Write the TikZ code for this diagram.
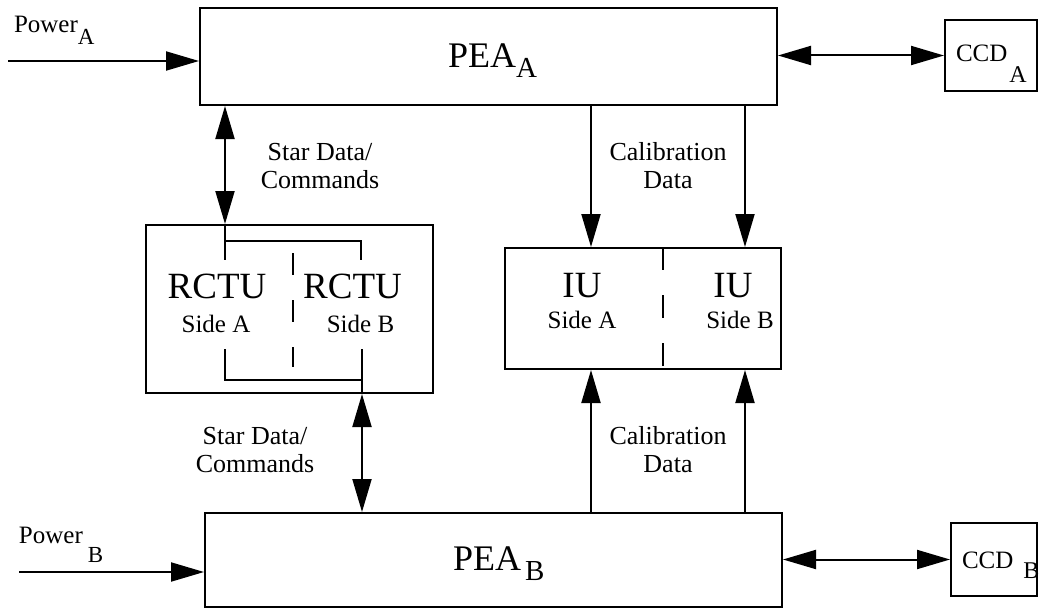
\documentclass[tikz,border=0pt]{standalone}
\usepackage{fontspec}
\setmainfont{Liberation Serif}
\usetikzlibrary{arrows.meta}
\newcommand{\fs}[2]{\fontsize{#1}{#2}\selectfont}
\newcommand{\lsub}[3]{\raisebox{-#1pt}{\fs{#2}{#2}#3}}
\begin{document}
\begin{tikzpicture}[x=1pt,y=-1pt,line width=2pt,>={Triangle[length=33pt,width=19pt]},
	box/.style={draw,inner sep=0pt},
	txt/.style={inner sep=0pt,anchor=base west},
	bigtxt/.style={font=\fs{37}{37},inner sep=0pt,anchor=base},
	sidetxt/.style={font=\fs{25}{25},inner sep=0pt,anchor=base},
	lbl/.style={font=\fs{26}{28},align=center,inner sep=0pt},
	divider/.style={dash pattern=on 23pt off 25pt},
	rdivider/.style={dash pattern=on 22pt off 25pt}]
	\useasboundingbox (0,0) rectangle (1039,610);
	% boxes
	\node[box,minimum width=577,minimum height=97] (peaA) at (488.5,56.5) {};
	\node[box,minimum width=577,minimum height=94] (peaB) at (493.5,560) {};
	\node[box,minimum width=92,minimum height=71] (ccdA) at (991,55.5) {};
	\node[box,minimum width=86,minimum height=73] (ccdB) at (994,559.5) {};
	\node[box,minimum width=287,minimum height=168] (rctu) at (289.5,309) {};
	\node[box,minimum width=276,minimum height=121] (iu) at (643,308.5) {};
	% box texts
	\node[txt,font=\fs{36}{36}] (peaAtxt) at (447,67) {PEA\lsub{10}{29}{A}};
	\node[txt,font=\fs{36}{36}] (peaBtxt) at (452,570) {PEA\hspace{4pt}\lsub{10}{29}{B}};
	\node[txt,font=\fs{25}{25}] (ccdAtxt) at (955,62) {CCD\hspace{2pt}\lsub{21}{24}{A}};
	\node[txt,font=\fs{25}{25}] (ccdBtxt) at (961,568) {CCD\hspace{10pt}\lsub{10}{24}{B}};
	\node[txt,font=\fs{25}{25}] (pwrAtxt) at (13,33) {Power\lsub{12}{23}{A}};
	\node[txt,font=\fs{25}{25}] (pwrBtxt) at (18,543) {Power\hspace{5pt}\lsub{19}{23}{B}};
	\node[bigtxt] (rctuAtxt) at (217,298) {RCTU};
	\node[sidetxt] (rctuAside) at (216,332) {Side A};
	\node[bigtxt] (rctuBtxt) at (352.5,298) {RCTU};
	\node[sidetxt] (rctuBside) at (360.5,332) {Side B};
	\node[bigtxt] (iuAtxt) at (582,297) {IU};
	\node[sidetxt] (iuAside) at (582,328) {Side A};
	\node[bigtxt] (iuBtxt) at (733,297) {IU};
	\node[sidetxt] (iuBside) at (740,328) {Side B};
	% labels
	\node[lbl] (starA) at (320,166) {Star Data/\\Commands};
	\node[lbl] (starB) at (255,450) {Star Data/\\Commands};
	\node[lbl] (calA) at (668,166) {Calibration\\Data};
	\node[lbl] (calB) at (668,450) {Calibration\\Data};
	% connectors
	\coordinate (xr) at (225,0);
	\coordinate (xrb) at (362,0);
	\coordinate (xc1) at (591,0);
	\coordinate (xc2) at (745,0);
	\coordinate (xd) at (663,0);
	\coordinate (pwrAin) at (8,61);
	\coordinate (pwrBin) at (19,572);
	\draw[->] (pwrAin) -- (pwrAin -| peaA.west);
	\draw[->] (pwrBin) -- (pwrBin -| peaB.west);
	\draw[<->] (peaA.east |- ccdA.west) -- (ccdA.west);
	\draw[<->] (peaB.east |- ccdB.west) -- (ccdB.west);
	\draw[<->] (peaA.south -| xr) -- (rctu.north -| xr);
	\draw[<->] (rctu.south -| xrb) -- (peaB.north -| xrb);
	\draw[->] (peaA.south -| xc1) -- (iu.north -| xc1);
	\draw[->] (peaA.south -| xc2) -- (iu.north -| xc2);
	\draw[->] (peaB.north -| xc1) -- (iu.south -| xc1);
	\draw[->] (peaB.north -| xc2) -- (iu.south -| xc2);
	% rctu brackets
	\draw (rctu.north -| xr) -- (225,260);
	\draw (225,241) -- (361,241) -- (361,260);
	\draw (225,349) -- (225,380) -- (362,380);
	\draw (362,349) -- (rctu.south -| xrb);
	% side dividers
	\draw[rdivider] (293,253) -- (293,367);
	\draw[divider] (iu.north -| xd) -- (iu.south -| xd);
\end{tikzpicture}
\end{document}
